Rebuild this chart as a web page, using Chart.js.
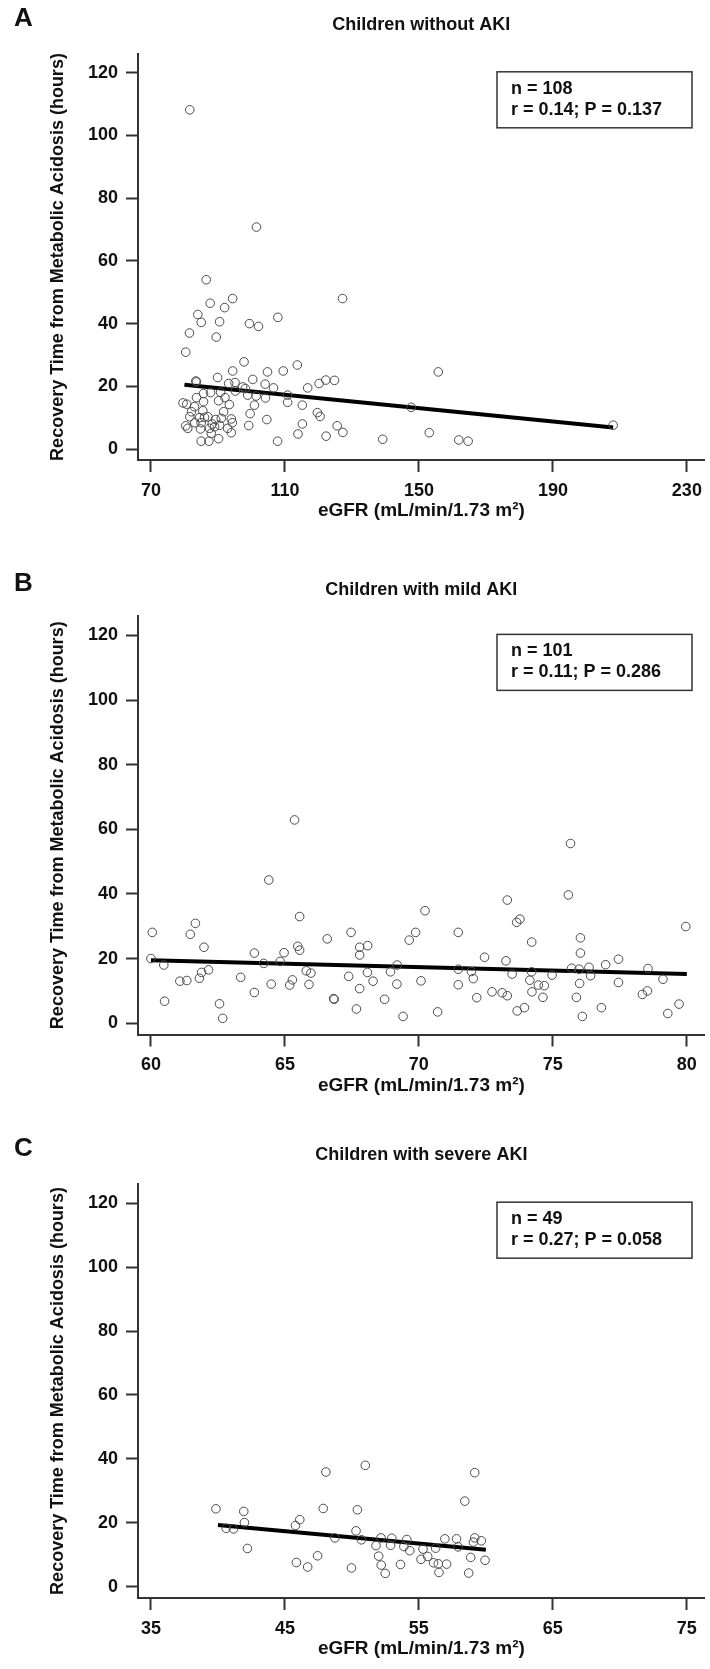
<!DOCTYPE html>
<html>
<head>
<meta charset="utf-8">
<script src="https://cdn.jsdelivr.net/npm/chart.js@4"></script>
<style>
  body { margin: 0; background: #fff; }
  canvas { display: block; }
</style>
</head>
<body>
<canvas id="chartA" width="710" height="565"></canvas>
<canvas id="chartB" width="710" height="565"></canvas>
<canvas id="chartC" width="710" height="539"></canvas>
<script>
// A: children without AKI
var noAkiX = [81.6,101.5,86.5,87.7,94.4,92.0,127.2,84.0,85.0,90.5,99.4,102.1,107.9,81.5,89.5,80.4,97.8,113.7,94.4,104.8,
  109.5,89.9,100.4,83.4,83.6,122.2,124.8,120.2,93.2,95.1,104.1,97.4,98.2,106.6,116.8,85.7,87.8,90.8,95.2,98.9,
  101.4,104.2,110.8,83.6,92.1,79.6,80.7,83.0,85.7,90.2,93.4,100.9,110.8,115.2,82.1,85.5,91.7,99.6,119.7,120.5,
  81.6,84.5,86.0,87.0,89.3,91.0,94.0,104.6,80.4,81.0,83.1,85.0,88.3,90.5,94.3,99.2,115.2,125.6,84.8,87.5,
  89.0,92.9,88.0,94.0,113.9,127.3,122.3,85.0,87.3,90.2,107.8,139.2,155.8,147.7,153.1,161.9,164.7,208.0];
var noAkiY = [108.2,70.8,54.0,46.5,48.0,45.1,48.0,42.9,40.4,40.6,40.0,39.1,42.0,37.0,35.7,30.9,27.8,26.8,24.9,24.6,
  24.9,22.8,22.2,21.7,21.4,22.0,21.9,20.9,20.9,21.2,20.7,19.8,19.3,19.5,19.5,17.7,18.0,18.1,18.5,17.2,
  16.9,16.3,17.2,16.4,16.4,14.7,14.3,13.5,15.1,15.4,14.2,14.0,14.9,14.0,11.9,12.2,11.9,11.3,11.6,10.4,
  10.3,10.0,10.1,10.3,9.4,9.8,9.6,9.4,7.4,6.6,8.4,8.4,8.0,7.6,8.4,7.5,8.0,7.4,6.4,6.6,
  7.1,6.6,5.0,5.2,4.8,5.3,4.1,2.5,2.5,3.3,2.5,3.1,24.6,13.3,5.2,2.9,2.5,7.6];
var noAkiFitX = [80, 208];
var noAkiFitY = [20.5, 6.9];

// B: children with mild AKI
var mildX = [60.05,60.0,60.48,60.51,61.66,61.47,61.98,61.08,61.34,61.81,61.89,62.15,62.56,62.68,63.35,63.86,64.21,63.86,64.49,64.40,
  64.82,64.97,65.36,65.55,65.48,65.55,65.80,65.97,65.28,65.18,65.90,66.58,66.82,66.84,67.47,67.79,68.09,67.79,67.38,68.08,
  68.29,67.79,67.67,68.72,68.94,69.18,69.19,69.41,69.64,69.88,70.23,70.08,70.70,71.47,71.47,71.47,71.96,72.03,72.16,72.45,
  72.73,73.11,73.30,73.25,73.30,73.48,73.67,73.94,73.65,73.77,74.21,74.21,74.14,74.22,74.46,74.68,74.63,74.97,75.58,75.66,
  75.70,75.98,76.03,76.03,76.00,75.88,76.10,76.35,76.41,76.81,76.97,77.45,77.45,78.34,78.53,78.55,79.11,79.29,79.71,79.96];
var mildY = [28.1,20.0,18.0,6.8,30.9,27.5,23.5,13.0,13.2,13.9,15.7,16.5,6.0,1.5,14.2,21.7,18.5,9.5,12.1,44.3,
  19.1,21.8,62.9,33.0,23.8,22.6,16.2,15.5,13.4,11.8,12.0,26.1,7.6,7.4,28.1,23.5,24.0,21.1,14.5,15.7,
  13.0,10.7,4.4,7.4,15.9,12.1,18.0,2.1,25.7,28.1,34.8,13.1,3.5,28.1,16.7,11.9,16.0,13.8,7.9,20.4,
  9.7,9.4,8.5,19.3,38.1,15.2,3.8,4.8,31.2,32.2,25.1,15.9,13.3,9.7,11.8,11.6,8.0,14.9,39.7,55.6,
  17.0,16.7,26.4,21.7,12.3,8.0,2.1,17.3,14.7,4.8,18.1,19.8,12.6,8.9,10.0,16.9,13.6,3.0,5.9,29.9];
var mildFitX = [60, 80];
var mildFitY = [19.5, 15.2];

// C: children with severe AKI
var severeX = [39.85,41.93,41.98,40.62,41.16,42.20,46.11,45.79,45.86,46.70,47.44,48.06,47.86,48.73,49.97,50.41,50.31,50.71,51.00,51.80,
  52.17,52.00,52.19,52.49,52.89,52.98,53.63,53.88,54.10,54.32,55.16,55.31,55.66,56.10,56.45,56.50,56.25,56.94,57.07,57.81,
  57.93,58.43,58.87,58.72,59.07,59.17,59.17,59.66,59.94];
var severeY = [24.4,23.6,20.1,18.3,18.1,12.0,21.0,19.2,7.6,6.2,9.7,35.9,24.5,15.3,5.9,24.1,17.5,14.7,38.0,12.9,
  15.3,9.6,6.8,4.2,13.0,15.2,7.0,12.6,14.8,11.3,8.6,11.8,9.5,7.5,7.2,4.5,12.1,15.0,7.1,15.0,
  12.5,26.8,9.2,4.3,14.0,15.3,35.7,14.4,8.3];
var severeFitX = [40, 60];
var severeFitY = [19.3, 11.6];

var yTicks = [0, 20, 40, 60, 80, 100, 120];
var noAkiTicks = [70, 110, 150, 190, 230];
var mildTicks = [60, 65, 70, 75, 80];
var severeTicks = [35, 45, 55, 65, 75];

var fam = '"Liberation Sans", Arial, Helvetica, sans-serif';
var txtCol = '#111';
var axisCol = '#333';

var panelText = {
  id: 'panelText',
  afterDraw(chart, args, o) {
    let c = chart.ctx, a = chart.chartArea;
    let top = chart.scales.y.getPixelForValue(120) - 1;
    c.save();
    c.fillStyle = txtCol;
    c.textBaseline = 'middle';
    c.textAlign = 'left';
    c.font = 'bold 26px ' + fam;
    c.fillText(o.letter, 14, 19);
    c.font = 'bold 18px ' + fam;
    c.textAlign = 'center';
    c.fillText(o.title, (a.left + a.right) / 2, 25);
    c.strokeStyle = axisCol;
    c.lineWidth = 1.5;
    c.strokeRect(497, top, 195, 56);
    c.textAlign = 'left';
    c.fillText(o.stats[0], 511, top + 17);
    c.fillText(o.stats[1], 511, top + 38);
    c.restore();
  }
};

function drawPanel(canvId, cfg) {
  let ctx = document.getElementById(canvId);
  let H = ctx.height;
  let pts = cfg.xs.map((x, i) => ({x: x, y: cfg.ys[i]}));
  let fit = cfg.fitX.map((x, i) => ({x: x, y: cfg.fitY[i]}));
  let tickFont = {family: fam, size: 18, weight: 'bold'};

  new Chart(ctx, {
    type: 'scatter',
    data: {
      datasets: [{
        data: pts,
        pointRadius: 4.3,
        pointHoverRadius: 4.3,
        pointBorderWidth: 1,
        pointBorderColor: '#4a4a4a',
        pointBackgroundColor: 'rgba(0,0,0,0)'
      }, {
        data: fit,
        showLine: true,
        borderColor: '#000',
        borderWidth: 4,
        pointRadius: 0
      }]
    },
    options: {
      responsive: false,
      animation: false,
      devicePixelRatio: 1,
      layout: {padding: {top: cfg.top, right: 2, left: 0, bottom: 0}},
      plugins: {
        legend: {display: false},
        tooltip: {enabled: false},
        panelText: {letter: cfg.letter, title: cfg.title, stats: cfg.stats}
      },
      scales: {
        x: {
          type: 'linear', min: cfg.xMin, max: cfg.xMax,
          afterBuildTicks: s => { s.ticks = cfg.xTicks.map(v => ({value: v})); },
          afterFit: s => { s.height = H - cfg.bottom; s.paddingLeft = 0; s.paddingRight = 0; },
          border: {display: true, color: axisCol, width: 2},
          grid: {drawOnChartArea: false, drawTicks: true, tickLength: 12, tickColor: axisCol, tickWidth: 2},
          ticks: {padding: 8, color: txtCol, font: tickFont, maxRotation: 0, autoSkip: false},
          title: {
            display: true, text: 'eGFR (mL/min/1.73 m\u00b2)', color: txtCol,
            font: {family: fam, size: 19, weight: 'bold'},
            padding: {top: 0, bottom: H - cfg.bottom - 51 - 11.4}
          }
        },
        y: {
          type: 'linear', min: -3.5, max: 126,
          afterBuildTicks: s => { s.ticks = yTicks.map(v => ({value: v})); },
          afterFit: s => { s.width = 138; s.paddingTop = 0; s.paddingBottom = 0; },
          border: {display: true, color: axisCol, width: 2},
          grid: {drawOnChartArea: false, drawTicks: true, tickLength: 12, tickColor: axisCol, tickWidth: 2},
          ticks: {padding: 8, color: txtCol, font: tickFont},
          title: {
            display: true, text: 'Recovery Time from Metabolic Acidosis (hours)', color: txtCol,
            font: tickFont, padding: {top: 47, bottom: 0}
          }
        }
      }
    },
    plugins: [panelText]
  });
}

drawPanel('chartA', {
  xs: noAkiX, ys: noAkiY, fitX: noAkiFitX, fitY: noAkiFitY, xTicks: noAkiTicks,
  xMin: 66.14, xMax: 235.32, top: 54, bottom: 460,
  letter: 'A', title: 'Children without AKI', stats: ['n = 108', 'r = 0.14; P = 0.137']
});
drawPanel('chartB', {
  xs: mildX, ys: mildY, fitX: mildFitX, fitY: mildFitY, xTicks: mildTicks,
  xMin: 59.518, xMax: 80.667, top: 51, bottom: 469.5,
  letter: 'B', title: 'Children with mild AKI', stats: ['n = 101', 'r = 0.11; P = 0.286']
});
drawPanel('chartC', {
  xs: severeX, ys: severeY, fitX: severeFitX, fitY: severeFitY, xTicks: severeTicks,
  xMin: 34.035, xMax: 76.335, top: 54, bottom: 468,
  letter: 'C', title: 'Children with severe AKI', stats: ['n = 49', 'r = 0.27; P = 0.058']
});
</script>
</body>
</html>
